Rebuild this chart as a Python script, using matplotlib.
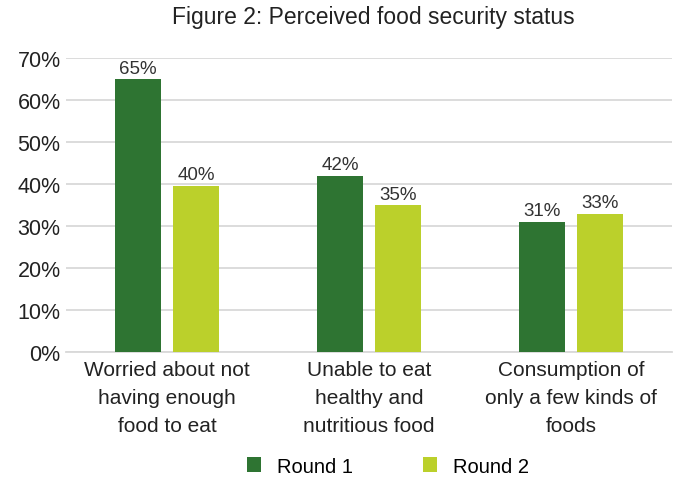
import matplotlib.pyplot as plt
import numpy as np

categories = ["Worried about not\nhaving enough\nfood to eat",
              "Unable to eat\nhealthy and\nnutritious food",
              "Consumption of\nonly a few kinds of\nfoods"]
round1 = [65, 42, 31]
round2 = [39.6, 35, 33]
series_names = ["Round 1", "Round 2"]
colors = ["#2e7432", "#bbd02b"]

plt.rcParams['font.family'] = ['Liberation Sans', 'DejaVu Sans']

fig = plt.figure(figsize=(6.81, 4.81), dpi=100)
ax = fig.add_axes([0.097, 0.266, 0.89, 0.611])

x = np.arange(len(categories))
w = 0.228
off = 0.144
b1 = ax.bar(x - off, round1, w, color=colors[0], label=series_names[0], zorder=3)
b2 = ax.bar(x + off, round2, w, color=colors[1], label=series_names[1], zorder=3)
for bars in (b1, b2):
    for r in bars:
        ax.text(r.get_x() + r.get_width() / 2, r.get_height() + 0.6,
                "%d%%" % round(r.get_height()), ha="center", va="bottom",
                fontsize=13.5, color="#333333")

ax.set_ylim(0, 70)
ax.set_xlim(-0.5, 2.5)
ax.set_yticks(range(0, 71, 10))
ax.set_yticklabels(["%d%%" % v for v in range(0, 71, 10)], fontsize=15.5, color="#222222")
ax.set_xticks(x)
ax.set_xticklabels(categories, fontsize=15, color="#222222", linespacing=1.6)
ax.tick_params(axis="y", length=0, pad=4)
ax.tick_params(axis="x", length=0, pad=6)
ax.grid(axis="y", color="#d9d9d9", lw=1.3, zorder=0)
for s in ["top", "right", "left"]:
    ax.spines[s].set_visible(False)
ax.spines["bottom"].set_color("#d9d9d9")
ax.spines["bottom"].set_linewidth(1.3)

fig.text(0.548, 0.963, "Figure 2: Perceived food security status", fontsize=16.5,
         color="#222222", ha="center", va="center")
fig.legend(loc="center", bbox_to_anchor=(0.57, 0.029), ncol=2, frameon=False,
           fontsize=14.5, handlelength=0.7, handleheight=0.7, handletextpad=0.8,
           columnspacing=3.45, borderpad=0)

fig.savefig("out.png", dpi=100)
